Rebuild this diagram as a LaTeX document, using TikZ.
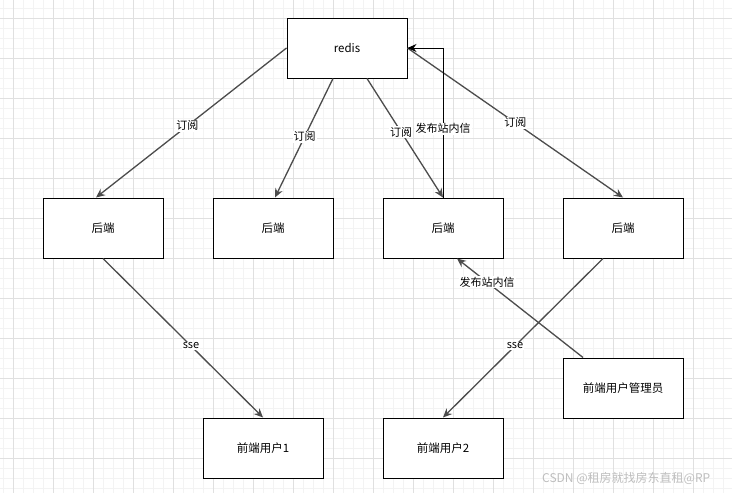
\documentclass[tikz,border=0pt]{standalone}
\usepackage{fontspec}
\setmainfont{Noto Sans CJK SC}
\usetikzlibrary{arrows.meta}
\definecolor{minorgrid}{RGB}{243,243,243}
\definecolor{majorgrid}{RGB}{224,224,224}
\definecolor{wm}{RGB}{190,190,190}
\tikzset{
  box/.style={draw=black, line width=1pt, fill=white, minimum width=120pt, minimum height=60pt, inner sep=0pt, font=\fontsize{11.5}{13}\selectfont},
  conn/.style={draw=black!70, line width=1.3pt, -{Stealth[length=9pt,width=8pt,inset=3pt]}},
  ortho/.style={draw=black, line width=1pt, -{Stealth[length=9pt,width=8pt,inset=3pt]}},
  lbl/.style={fill=white, inner sep=1pt, font=\fontsize{11}{12}\selectfont}
}
\begin{document}
\begin{tikzpicture}[x=1pt,y=-1pt]
\useasboundingbox (0,0) rectangle (732,493);
\fill[white] (0,0) rectangle (732,493);
% grid
\foreach \x in {3,13,...,733} \draw[minorgrid, line width=0.6pt] (\x,0) -- (\x,493);
\foreach \y in {8,18,...,493} \draw[minorgrid, line width=0.6pt] (0,\y) -- (732,\y);
\foreach \x in {13,53,...,733} \draw[majorgrid, line width=0.8pt] (\x,0) -- (\x,493);
\foreach \y in {18,58,...,493} \draw[majorgrid, line width=0.8pt] (0,\y) -- (732,\y);
% nodes
\node[box] (redis) at (347,48) {redis};
\node[box] (b1) at (103,228) {后端};
\node[box] (b2) at (273,228) {后端};
\node[box] (b3) at (443,228) {后端};
\node[box] (b4) at (623,228) {后端};
\node[box] (f1) at (263,448) {前端用户1};
\node[box] (f2) at (443,448) {前端用户2};
\node[box] (adm) at (623,388) {前端用户管理员};
% connectors
\draw[conn] (redis.west) -- node[lbl, pos=0.52] {订阅} ([xshift=-7pt]b1.north);
\draw[conn] ([xshift=-14pt]redis.south) -- node[lbl, pos=0.49] {订阅} ([xshift=2pt]b2.north);
\draw[conn] ([xshift=20pt]redis.south) -- node[lbl, pos=0.45] {订阅} (b3.north);
\draw[conn] (redis.east) -- node[lbl, pos=0.5] {订阅} (b4.north);
\draw[ortho] (b3.north) |- node[lbl, pos=0.23] {发布站内信} (redis.east);
\draw[conn] (b1.south) -- node[lbl, pos=0.55] {sse} (f1.north);
\draw[conn] ([xshift=-20pt]b4.south) -- node[lbl, pos=0.55] {sse} (f2.north);
\draw[conn] ([xshift=-40pt]adm.north) -- node[lbl, pos=0.76] {发布站内信} ([xshift=14pt]b3.south);
% watermark
\node[wm, anchor=west, inner sep=0pt, font=\fontsize{12}{13}\selectfont] (wmark) at (542,478) {CSDN @租房就找房东直租@RP};
\end{tikzpicture}
\end{document}
